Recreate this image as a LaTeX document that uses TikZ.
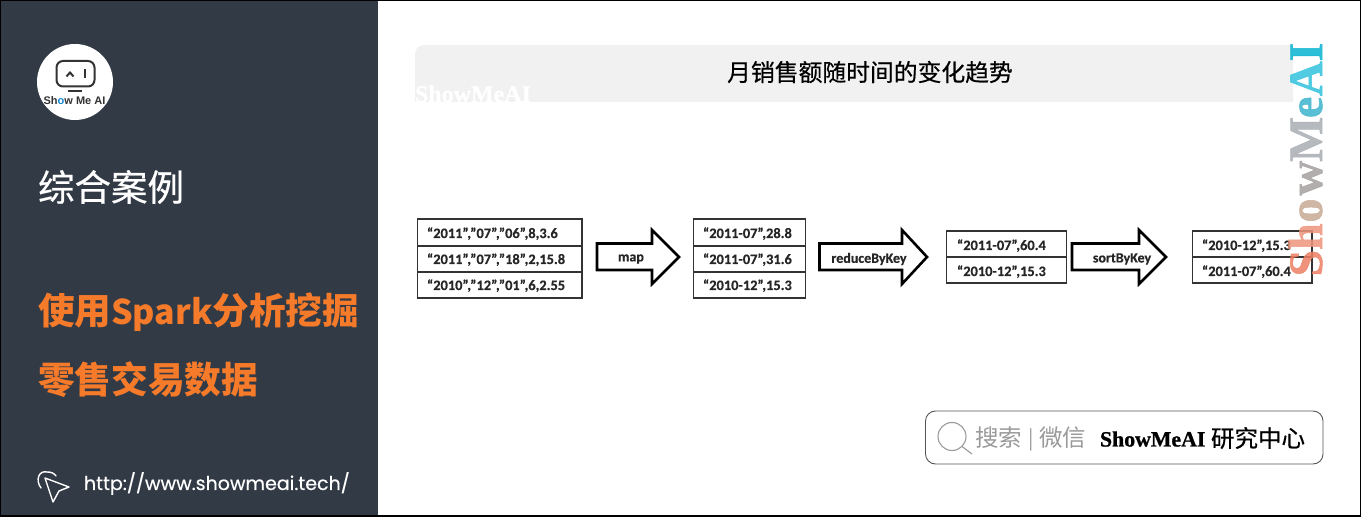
\documentclass[tikz,border=0pt]{standalone}
\usepackage{fontspec}
\setmainfont{Liberation Serif}
\newfontfamily\cjkfont{Noto Sans CJK SC}
\newfontfamily\cjkmed[FakeBold=0.5]{Noto Sans CJK SC}
\newfontfamily\calfont[FakeBold=0.4]{Carlito}
\newfontfamily\popfont[FakeBold=0.4]{Poppins}
\newfontfamily\wmfont[FakeBold=1]{Liberation Serif}
\newfontfamily\hvfont{Liberation Sans}
\definecolor{panel}{HTML}{323A45}
\definecolor{accent}{HTML}{F57A2A}
\definecolor{titlegrey}{HTML}{F1F1F1}
\definecolor{searchgrey}{HTML}{9A9A9A}
\definecolor{framegrey}{HTML}{555555}
\definecolor{ink}{HTML}{333333}
\tikzset{
  x=1pt,y=-1pt,
  txt/.style={inner sep=0pt,outer sep=0pt,anchor=base west},
  ctxt/.style={inner sep=0pt,outer sep=0pt,anchor=center},
  databox/.style={draw=ink,line width=1.5pt},
  flowarrow/.style={draw=black,fill=white,line width=2.6pt,miter limit=10},
  rowtxt/.style={txt,font=\calfont\bfseries\fontsize{14.4}{15}\selectfont,text=black!85},
  oplabel/.style={ctxt,font=\calfont\bfseries\fontsize{14}{15}\selectfont,text=black!85},
  wmletter/.style={inner sep=0pt,outer sep=0pt,anchor=base west,rotate=90,font=\wmfont\bfseries\fontsize{48}{48}\selectfont,opacity=.85},
}
\begin{document}
\begin{tikzpicture}
\useasboundingbox (0,0) rectangle (1361,518);
\fill[white] (0,0) rectangle (1361,518);
% left panel
\fill[panel] (0,0) rectangle (378,516);
\draw[black,line width=1.2pt] (0.6,0.6) rectangle (1360.4,516);
% logo
\fill[white] (75,82) circle (38);
\draw[ink,line width=2pt,rounded corners=6.5] (56.5,61) rectangle (94.5,86.5);
\draw[ink,line width=2pt] (66.5,76.5) -- (70,72.5) -- (73.5,76.5);
\draw[ink,line width=2.4pt] (84.7,69.5) -- (84.7,78);
\draw[ink,line width=2pt] (68,91) -- (82,91);
\node[ctxt,font=\hvfont\bfseries\fontsize{11}{12}\selectfont,text=ink] (logotext) at (74.5,101) {Sh{\color{cyan!70!blue}o}w Me AI};
% left texts
\node[txt,text=white,font=\cjkmed\fontsize{36.5}{38}\selectfont] (section) at (38,201) {综合案例};
\node[txt,text=accent,font=\cjkfont\bfseries\fontsize{36.6}{38}\selectfont] (subone) at (38,325) {使用{\fontsize{34}{38}\selectfont Spark}分析挖掘};
\node[txt,text=accent,font=\cjkfont\bfseries\fontsize{36.7}{38}\selectfont] (subtwo) at (38,394) {零售交易数据};
\node[txt,text=white,font=\popfont\fontsize{19}{22}\selectfont] (url) at (84,490) {http://www.showmeai.tech/};
% cursor icon
\draw[white,line width=1.4pt,line join=round] (45,478) -- (69,487) -- (59,491) -- (53,502) -- cycle;
\draw[white,line width=1.4pt,line cap=round] (41,488) .. controls (35,480) and (39,470) .. (47,472) .. controls (51,472) and (54,473) .. (56,476);
% title bar
\begin{scope}
\clip (405,40) rectangle (1293,102);
\fill[titlegrey,rounded corners=9] (415,45) rectangle (1320,120);
\end{scope}
\begin{scope}
\clip (415,80) rectangle (540,102);
\node[txt,text=white,font=\wmfont\bfseries\fontsize{24}{24}\selectfont] (wmsmall) at (415,102) {ShowMeAI};
\end{scope}
\node[ctxt,text=black,font=\cjkmed\fontsize{23.8}{26}\selectfont] (title) at (870,72) {月销售额随时间的变化趋势};
% box 1
\draw[databox] (417.5,219) rectangle (582,298) (417.5,246) -- (582,246) (417.5,272) -- (582,272);
\node[rowtxt] (a1) at (427,238) {“2011”,”07”,”06”,8,3.6};
\node[rowtxt] (a2) at (427,264) {“2011”,”07”,”18”,2,15.8};
\node[rowtxt] (a3) at (427,290) {“2010”,”12”,”01”,6,2.55};
% arrow 1
\draw[flowarrow] (597,243.5) -- (652,243.5) -- (652,230) -- (679,257) -- (652,284) -- (652,270) -- (597,270) -- cycle;
\node[oplabel] (opmap) at (631,259) {map};
% box 2
\draw[databox] (693.5,219) rectangle (805.5,298) (693.5,246) -- (805.5,246) (693.5,272) -- (805.5,272);
\node[rowtxt] (b1) at (703,238) {“2011-07”,28.8};
\node[rowtxt] (b2) at (703,264) {“2011-07”,31.6};
\node[rowtxt] (b3) at (703,290) {“2010-12”,15.3};
% arrow 2
\draw[flowarrow] (819.5,243.5) -- (902,243.5) -- (902,230) -- (927,257) -- (902,284) -- (902,270) -- (819.5,270) -- cycle;
\node[oplabel] (opreduce) at (869,259) {reduceByKey};
% box 3
\draw[databox] (946.5,231) rectangle (1066.5,283) (946.5,257) -- (1066.5,257);
\node[rowtxt] (c1) at (957,250) {“2011-07”,60.4};
\node[rowtxt] (c2) at (957,276) {“2010-12”,15.3};
% arrow 3
\draw[flowarrow] (1072,243.5) -- (1139,243.5) -- (1139,230) -- (1166,257) -- (1139,284) -- (1139,270) -- (1072,270) -- cycle;
\node[oplabel] (opsort) at (1122,259) {sortByKey};
% box 4
\draw[databox] (1192.5,231) rectangle (1312,283) (1192.5,257) -- (1312,257);
\node[rowtxt] (d1) at (1202,250) {“2010-12”,15.3};
\node[rowtxt] (d2) at (1202,276) {“2011-07”,60.4};
% vertical watermark
\node[wmletter,text={rgb,255:red,238;green,128;blue,100}] (wm1) at (1322,276.5) {S};
\node[wmletter,text={rgb,255:red,238;green,150;blue,125}] (wm2) at (1322,250) {h};
\node[wmletter,text={rgb,255:red,200;green,170;blue,150}] (wm3) at (1322,222.5) {o};
\node[wmletter,text={rgb,255:red,165;green,160;blue,160}] (wm4) at (1322,195.5) {w};
\node[wmletter,text={rgb,255:red,170;green,175;blue,180}] (wm5) at (1322,162) {M};
\node[wmletter,text={rgb,255:red,60;green,180;blue,205}] (wm6) at (1322,118) {e};
\node[wmletter,text={rgb,255:red,50;green,195;blue,220}] (wm7) at (1322,96) {A};
\node[wmletter,text={rgb,255:red,10;green,180;blue,210}] (wm8) at (1322,61.5) {I};
% search box
\draw[framegrey,line width=.9pt,rounded corners=10,fill=white] (925.5,411) rectangle (1323,464);
\draw[searchgrey,line width=1.1pt] (952,436.5) circle (14);
\draw[searchgrey,line width=1.1pt] (962,446.5) -- (972,454);
\node[txt,text=searchgrey,font=\cjkfont\fontsize{23.5}{26}\selectfont] (search) at (975,447) {搜索};
\node[txt,text=searchgrey,font=\cjkfont\fontsize{20}{26}\selectfont] (sep) at (1028,446) {|};
\node[txt,text=searchgrey,font=\cjkfont\fontsize{23.5}{26}\selectfont] (wechat) at (1039,447) {微信};
\node[txt,text=black,font=\wmfont\bfseries\fontsize{21.8}{24}\selectfont] (brand) at (1100,446.5) {ShowMeAI};
\node[txt,text=black,font=\cjkmed\fontsize{23.5}{26}\selectfont] (center) at (1211,447) {研究中心};
\end{tikzpicture}
\end{document}
